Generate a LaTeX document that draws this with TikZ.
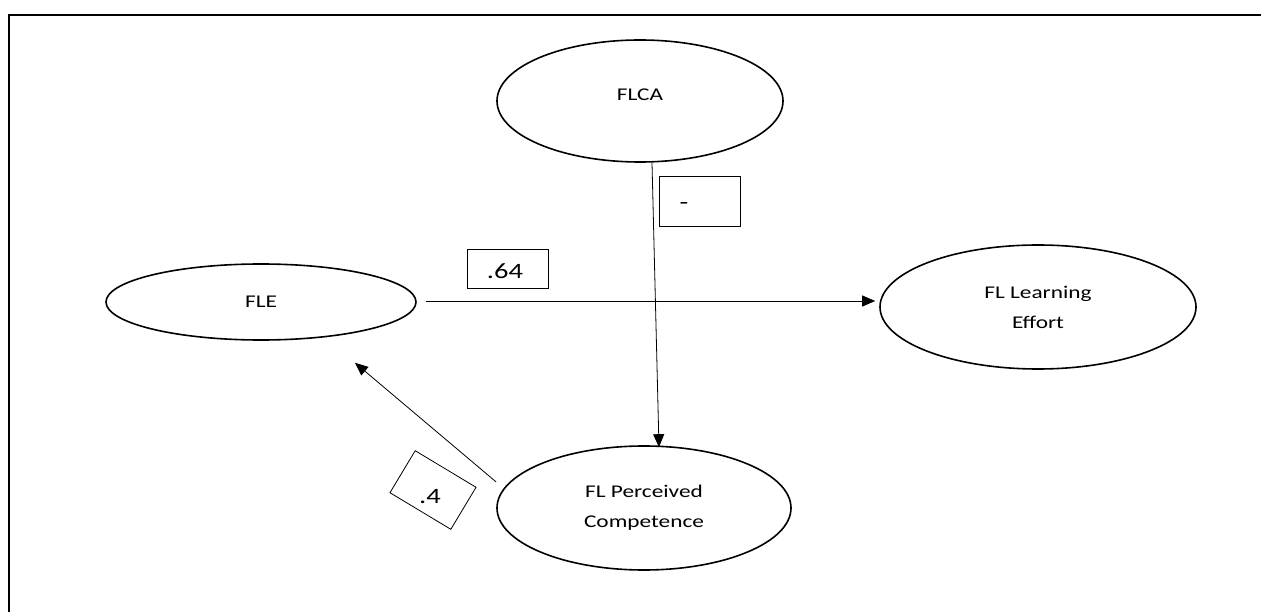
\documentclass[tikz,border=0pt]{standalone}
\usepackage{fontspec}
\setmainfont{Carlito}
\newfontfamily\widefont[FakeStretch=1.3]{Carlito}
\usetikzlibrary{arrows.meta,calc,shapes.geometric}
\begin{document}
\begin{tikzpicture}[x=1bp,y=-1bp,
  latent/.style={draw,ellipse,line width=1.6bp,inner sep=0pt,font=\widefont\fontsize{18}{30}\selectfont,align=center},
  lbox/.style={draw,line width=0.8bp,inner sep=0pt},
  ltext/.style={font=\widefont\fontsize{22}{24}\selectfont,inner sep=0pt},
  conn/.style={line width=0.8bp,-{Triangle[length=13bp,width=11bp]}},
  frame/.style={line width=2bp}]
\useasboundingbox (0,0) rectangle (1261,612);
\draw[frame] (9,612) -- (9,15) -- (1261,15);
\node[latent,minimum width=286bp,minimum height=122bp] (flca) at (640,101) {\raisebox{12bp}{FLCA}};
\node[latent,minimum width=310bp,minimum height=76bp] (fle) at (261,302) {FLE};
\node[latent,minimum width=316bp,minimum height=124bp] (eff) at (1038,307) {FL Learning\\Effort};
\node[latent,minimum width=294bp,minimum height=124bp] (pc) at (644,508) {FL Perceived\\Competence};
\node[lbox,minimum width=81bp,minimum height=50bp] (bminus) at (699.5,201) {};
\node[ltext] (tminus) at (684,206) {-};
\node[lbox,minimum width=81bp,minimum height=39bp] (b64) at (507.5,268.5) {};
\node[ltext] (t64) at (505,271) {.64};
\node[lbox,rotate=-31,minimum width=71bp,minimum height=49bp] (b4) at (433,490) {};
\node[ltext] (t4) at (430,497) {.4};
\draw[conn] ($(flca.south)+(12,0)$) -- ($(pc.north)+(15,2)$);
\draw[conn] ($(fle.east)+(9,-1)$) -- ($(eff.west)+(-4,-6)$);
\draw[conn] ($(pc.west)+(0,-26)$) -- ($(fle.south)+(94,22)$);
\end{tikzpicture}
\end{document}
